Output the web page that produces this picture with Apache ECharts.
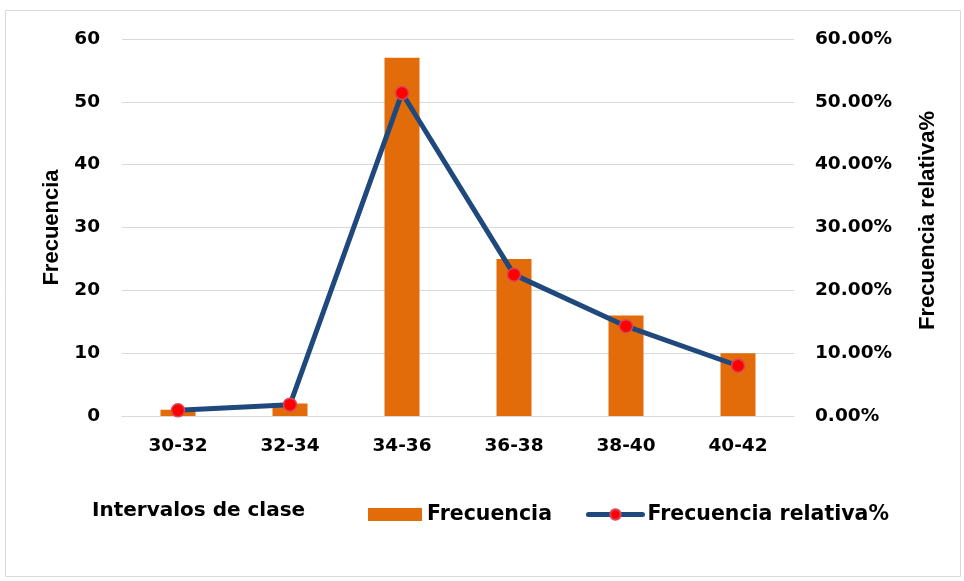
<!DOCTYPE html>
<html><head><meta charset="utf-8">
<script src="https://cdn.jsdelivr.net/npm/echarts@6/dist/echarts.min.js"></script>
<style>html,body{margin:0;padding:0;background:#fff}#c{width:964px;height:581px}</style>
</head><body><div id="c"></div>
<script>
const categories = ['30-32','32-34','34-36','36-38','38-40','40-42'];
const frecuencia = [1, 2, 57, 25, 16, 10];
const relativa = [0.009, 0.018, 0.514, 0.225, 0.143, 0.080];
const leftTicks = [0, 60, 10];
const rightTicks = [0, 0.6, 0.1];

const WIDE = '"DejaVu Sans", sans-serif';
const FONT = '"Liberation Sans", Arial, sans-serif';
const chart = echarts.init(document.getElementById('c'));
chart.setOption({
  animation: false,
  backgroundColor: '#fff',
  graphic: [{
    type: 'rect', shape: {x: 5.5, y: 10.5, width: 955, height: 566},
    style: {fill: 'none', stroke: '#d9d9d9', lineWidth: 1}, silent: true, z: -1
  }],
  title: {
    text: 'Intervalos de clase', left: 87, top: 496,
    textStyle: {fontFamily: WIDE, fontWeight: 'bold', fontSize: 20, color: '#000'}
  },
  legend: {
    top: 499, left: 363, itemGap: 34, itemWidth: 54, itemHeight: 13,
    textStyle: {fontFamily: WIDE, fontWeight: 'bold', fontSize: 20.5, color: '#000'},
    data: [
      {name: 'Frecuencia', icon: 'rect'},
      {name: 'Frecuencia relativa%', lineStyle: {width: 5, color: '#1f497d', cap: 'round'}}
    ]
  },
  grid: {left: 122, right: 170, top: 39, bottom: 165, containLabel: false},
  xAxis: {
    type: 'category', data: categories,
    axisLine: {show: true, lineStyle: {color: '#d9d9d9', width: 1}},
    axisTick: {show: false},
    axisLabel: {fontFamily: WIDE, fontWeight: 'bold', fontSize: 18.5, color: '#000', margin: 21}
  },
  yAxis: [{
    type: 'value', min: leftTicks[0], max: leftTicks[1], interval: leftTicks[2],
    name: 'Frecuencia', nameLocation: 'middle', nameGap: 58, nameRotate: 90,
    nameTextStyle: {fontFamily: FONT, fontWeight: 'bold', fontSize: 22, color: '#000'},
    axisLine: {show: false}, axisTick: {show: false},
    splitLine: {lineStyle: {color: '#d9d9d9', width: 1}},
    axisLabel: {fontFamily: WIDE, fontWeight: 'bold', fontSize: 18.5, color: '#000', margin: 22}
  }, {
    type: 'value', min: rightTicks[0], max: rightTicks[1], interval: rightTicks[2],
    name: 'Frecuencia relativa%', nameLocation: 'middle', nameGap: 123, nameRotate: 90,
    nameTextStyle: {fontFamily: FONT, fontWeight: 'bold', fontSize: 22, color: '#000', padding: [0, 0, 0, 14]},
    axisLine: {show: false}, axisTick: {show: false}, splitLine: {show: false},
    axisLabel: {fontFamily: WIDE, fontWeight: 'bold', fontSize: 18.5, color: '#000', margin: 21,
      formatter: v => (v * 100).toFixed(2) + '%'}
  }],
  series: [{
    name: 'Frecuencia', type: 'bar', data: frecuencia, barWidth: 35,
    itemStyle: {color: '#e36c0a'}, yAxisIndex: 0
  }, {
    name: 'Frecuencia relativa%', type: 'line', data: relativa, yAxisIndex: 1,
    lineStyle: {color: '#1f497d', width: 5},
    symbol: 'circle', symbolSize: 13,
    itemStyle: {color: '#ff0000', borderColor: '#d9455a', borderWidth: 1.5}
  }]
});
</script></body></html>
